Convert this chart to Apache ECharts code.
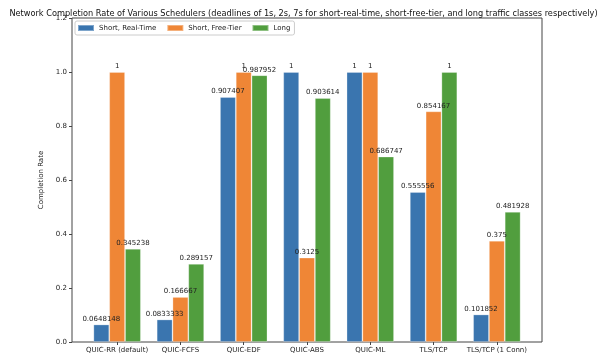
<!DOCTYPE html>
<html><head><meta charset="utf-8">
<script src="https://cdn.jsdelivr.net/npm/echarts@6/dist/echarts.min.js"></script>
<style>html,body{margin:0;padding:0;background:#fff}#c{width:607px;height:354px}</style>
</head><body><div id="c"></div>
<script>
const categories = ["QUIC-RR (default)", "QUIC-FCFS", "QUIC-EDF", "QUIC-ABS", "QUIC-ML", "TLS/TCP", "TLS/TCP (1 Conn)"];
const seriesNames = ["Short, Real-Time", "Short, Free-Tier", "Long"];
const realTime = [0.0648148, 0.0833333, 0.907407, 1, 1, 0.555556, 0.101852];
const freeTier = [1, 0.166667, 1, 0.3125, 1, 0.854167, 0.375];
const longTraffic = [0.345238, 0.289157, 0.987952, 0.903614, 0.686747, 1, 0.481928];
const yTicks = [0, 0.2, 0.4, 0.6, 0.8, 1.0, 1.2];
const colors = ["#3a75af", "#ef8636", "#519e3e"];

const font = "DejaVu Sans";
const fs = 7;
const chart = echarts.init(document.getElementById('c'), null, {renderer: 'canvas'});
const mk = (name, data, i) => ({
  name, type: 'bar', data, xAxisIndex: 1, yAxisIndex: 1,
  barWidth: 15.8, barGap: '0%',
  itemStyle: {color: colors[i], borderColor: 'rgba(255,255,255,0.35)', borderWidth: 0.8},
  label: {show: true, position: 'top', distance: 2, fontFamily: font, fontSize: fs, color: '#222',
    formatter: p => String(p.value)}
});
chart.setOption({
  animation: false,
  title: {text: "Network Completion Rate of Various Schedulers (deadlines of 1s, 2s, 7s for short-real-time, short-free-tier, and long traffic classes respectively)",
    left: 'center', top: 5, textStyle: {fontFamily: font, fontSize: 8.2, fontWeight: 'normal', color: '#111'}},
  legend: {left: 75, top: 21, padding: [3, 4, 3, 2], itemWidth: 16, itemHeight: 6, itemGap: 10,
    borderColor: '#ccc', borderWidth: 1, borderRadius: 2, icon: 'rect',
    textStyle: {fontFamily: font, fontSize: fs, color: '#222'}, data: seriesNames},
  grid: [
    {left: 72, right: 65, top: 18, bottom: 12, show: true, borderColor: '#444', borderWidth: 1, backgroundColor: 'transparent'},
    {left: 85.5, width: 443, top: 18, bottom: 12}
  ],
  xAxis: [
    {gridIndex: 0, type: 'value', min: 0, max: 1, show: false},
    {gridIndex: 1, type: 'category', data: categories,
      axisLine: {show: false}, axisTick: {show: true, alignWithLabel: true, length: 3, lineStyle: {color: '#444'}},
      axisLabel: {fontFamily: font, fontSize: fs, color: '#222', margin: 5, interval: 0}}
  ],
  yAxis: [
    {gridIndex: 0, type: 'value', min: 0, max: 1.2, interval: 0.2,
      name: 'Completion Rate', nameLocation: 'middle', nameGap: 22,
      nameTextStyle: {fontFamily: font, fontSize: fs, color: '#222'},
      axisLine: {show: false}, axisTick: {show: true, length: 3, lineStyle: {color: '#444'}},
      splitLine: {show: false},
      axisLabel: {fontFamily: font, fontSize: fs, color: '#222', margin: 5, formatter: v => v.toFixed(1)}},
    {gridIndex: 1, type: 'value', min: 0, max: 1.2, show: false, splitLine: {show: false}}
  ],
  series: [mk(seriesNames[0], realTime, 0), mk(seriesNames[1], freeTier, 1), mk(seriesNames[2], longTraffic, 2)]
});
</script></body></html>
